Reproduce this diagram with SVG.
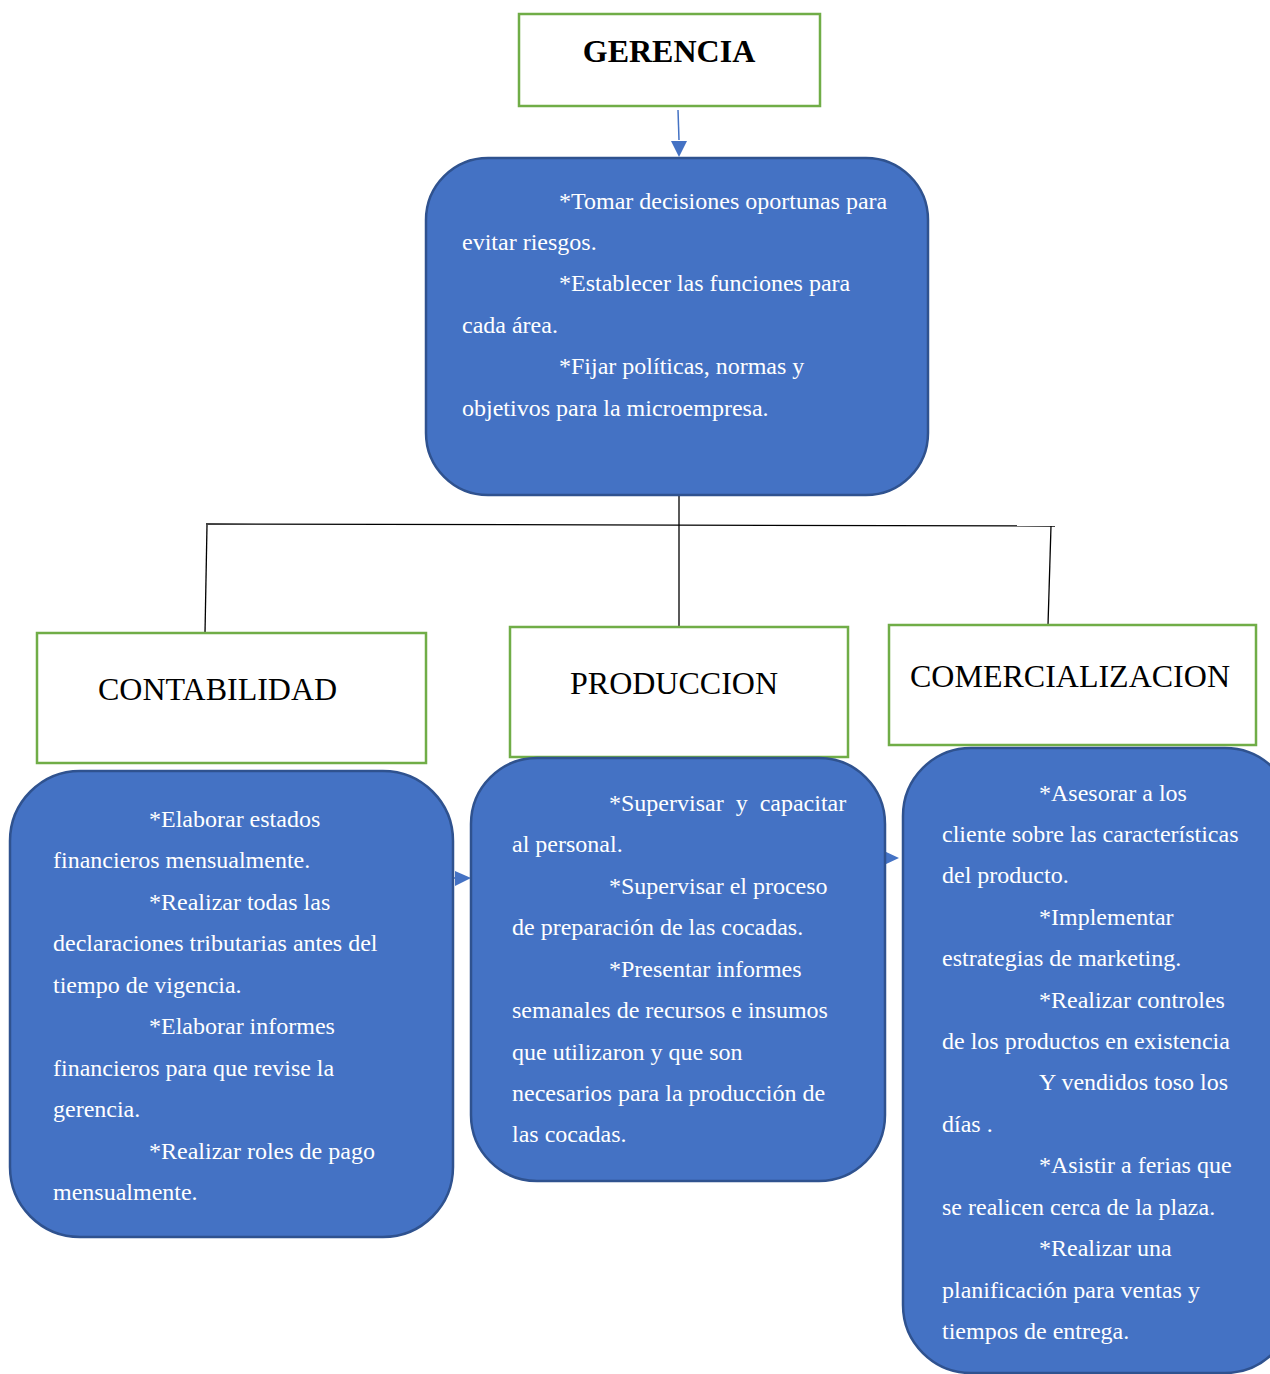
<svg xmlns="http://www.w3.org/2000/svg" width="1270" height="1374" viewBox="0 0 1270 1374">
<defs>
<style>
.hdr{fill:#fff;stroke:#70ad47;stroke-width:2.5}
.blue{fill:#4472c4;stroke:#2f528f;stroke-width:2.5}
.ht{font-family:"Liberation Serif","Times New Roman",serif;font-size:32px;fill:#000}
.bt{font-family:"Liberation Serif","Times New Roman",serif;font-size:24px;fill:#fff;white-space:pre}
.ln{stroke:#000;stroke-width:1.3;fill:none}
.ar{stroke:#4472c4;stroke-width:1.5;fill:none}
</style>
</defs>
<rect width="1270" height="1374" fill="#fff"/>

<g id="connectors">
<line class="ar" x1="678" y1="110" x2="679" y2="140"/>
<path d="M671,141 L687,141 L679,157 z" fill="#4472c4"/>
<line class="ln" x1="679" y1="495" x2="679" y2="632"/>
<line class="ln" x1="206" y1="524" x2="1055" y2="526"/>
<line class="ln" x1="207" y1="525" x2="205" y2="633"/>
<line class="ln" x1="1051" y1="526" x2="1048" y2="625"/>
<line class="ar" x1="452" y1="878" x2="458" y2="878"/>
<path d="M455,871 L471,878 L455,886 z" fill="#4472c4"/>
<path d="M884,851 L899,858 L884,865 z" fill="#4472c4"/>
</g>

<g id="gerencia">
<rect class="hdr" x="519" y="14" width="301" height="92"/>
<text class="ht" x="669" y="62" text-anchor="middle" font-weight="bold" font-size="31">GERENCIA</text>
</g>

<g id="gerencia-funciones">
<rect class="blue" x="426" y="158" width="502" height="337" rx="62" ry="62"/>
<text class="bt" x="559" y="209">*Tomar decisiones oportunas para</text>
<text class="bt" x="462" y="250">evitar riesgos.</text>
<text class="bt" x="559" y="291">*Establecer las funciones para</text>
<text class="bt" x="462" y="333">cada área.</text>
<text class="bt" x="559" y="374">*Fijar políticas, normas y</text>
<text class="bt" x="462" y="416">objetivos para la microempresa.</text>
</g>

<g id="contabilidad">
<rect class="hdr" x="37" y="633" width="389" height="130"/>
<text class="ht" x="98" y="700">CONTABILIDAD</text>
</g>

<g id="produccion">
<rect class="hdr" x="510" y="627" width="338" height="130"/>
<text class="ht" x="570" y="694">PRODUCCION</text>
</g>

<g id="comercializacion">
<rect class="hdr" x="889" y="625" width="367" height="120"/>
<text class="ht" x="910" y="687">COMERCIALIZACION</text>
</g>

<g id="contabilidad-funciones">
<rect class="blue" x="10" y="771" width="443" height="466" rx="70" ry="70"/>
<text class="bt" x="149" y="827">*Elaborar estados</text>
<text class="bt" x="53" y="868">financieros mensualmente.</text>
<text class="bt" x="149" y="910">*Realizar todas las</text>
<text class="bt" x="53" y="951">declaraciones tributarias antes del</text>
<text class="bt" x="53" y="993">tiempo de vigencia.</text>
<text class="bt" x="149" y="1034">*Elaborar informes</text>
<text class="bt" x="53" y="1076">financieros para que revise la</text>
<text class="bt" x="53" y="1117">gerencia.</text>
<text class="bt" x="149" y="1159">*Realizar roles de pago</text>
<text class="bt" x="53" y="1200">mensualmente.</text>
</g>

<g id="produccion-funciones">
<rect class="blue" x="471" y="758" width="414" height="423" rx="66" ry="66"/>
<text class="bt" x="609" y="811">*Supervisar  y  capacitar</text>
<text class="bt" x="512" y="852">al personal.</text>
<text class="bt" x="609" y="894">*Supervisar el proceso</text>
<text class="bt" x="512" y="935">de preparación de las cocadas.</text>
<text class="bt" x="609" y="977">*Presentar informes</text>
<text class="bt" x="512" y="1018">semanales de recursos e insumos</text>
<text class="bt" x="512" y="1060">que utilizaron y que son</text>
<text class="bt" x="512" y="1101">necesarios para la producción de</text>
<text class="bt" x="512" y="1142">las cocadas.</text>
</g>

<g id="comercializacion-funciones">
<rect class="blue" x="903" y="748" width="390" height="625" rx="68" ry="68"/>
<text class="bt" x="1039" y="801">*Asesorar a los</text>
<text class="bt" x="942" y="842">cliente sobre las características</text>
<text class="bt" x="942" y="883">del producto.</text>
<text class="bt" x="1039" y="925">*Implementar</text>
<text class="bt" x="942" y="966">estrategias de marketing.</text>
<text class="bt" x="1039" y="1008">*Realizar controles</text>
<text class="bt" x="942" y="1049">de los productos en existencia</text>
<text class="bt" x="1039" y="1090">Y vendidos toso los</text>
<text class="bt" x="942" y="1132">días .</text>
<text class="bt" x="1039" y="1173">*Asistir a ferias que</text>
<text class="bt" x="942" y="1215">se realicen cerca de la plaza.</text>
<text class="bt" x="1039" y="1256">*Realizar una</text>
<text class="bt" x="942" y="1298">planificación para ventas y</text>
<text class="bt" x="942" y="1339">tiempos de entrega.</text>
</g>
</svg>
